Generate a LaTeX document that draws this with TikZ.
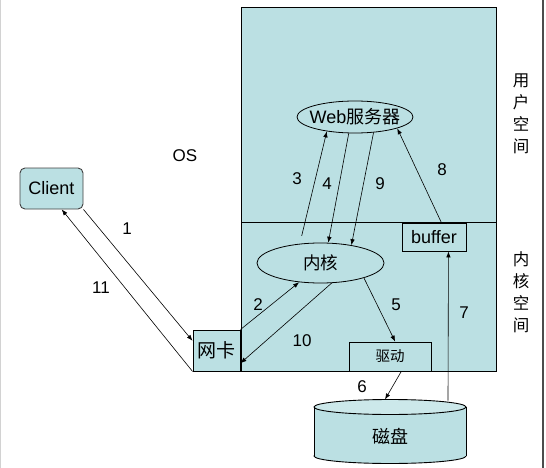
\documentclass[tikz,border=0pt]{standalone}
\usepackage{fontspec}
\setmainfont{Liberation Sans}
\newfontfamily\cjk{Noto Sans CJK SC}
\usetikzlibrary{arrows.meta, shapes.geometric}
\definecolor{paleblue}{RGB}{187,224,227}

\begin{document}
\begin{tikzpicture}[x=1pt, y=-1pt, font=\fontsize{17}{20}\selectfont,
    box/.style={draw, fill=paleblue, line width=0.9pt, inner sep=0pt},
    oval/.style={draw, ellipse, line width=0.8pt, inner sep=0pt},
    arr/.style={-{Latex[length=6pt,width=4.5pt]}, line width=0.6pt},
    num/.style={inner sep=0pt}]
            \useasboundingbox (0,0) rectangle (546,468);
            % page edges
            \draw[gray!35, line width=1pt] (0.5,0) -- (0.5,468);
            \draw[black!70, line width=2pt] (543,0) -- (543,468);

            % OS box, user space over kernel space
            \draw[fill=paleblue, line width=1pt] (241,8) rectangle (496,371);
            \draw[line width=1pt] (241,222) -- (496,222);

            \node[box, rounded corners=5pt, draw=black!75, minimum width=63pt, minimum height=41pt, font=\fontsize{18}{20}\selectfont] (client) at (51.5,188.5) {Client};
            \node[box, minimum width=47pt, minimum height=41pt, font=\cjk\fontsize{19}{20}\selectfont] (nic) at (216.5,350.5) {网卡};
            \node[box, minimum width=82pt, minimum height=29pt, font=\cjk\fontsize{14.5}{16}\selectfont] (drv) at (390,356.5) {驱动};
            \node[box, minimum width=64pt, minimum height=28pt, font=\fontsize{18}{20}\selectfont] (buffer) at (434,237) {buffer};
            \node[oval, minimum width=116pt, minimum height=32pt] (web) at (355,117) {};
            \node (webtxt) at (web) {\fontsize{18}{20}\selectfont Web{\cjk 服务器}};
            \node[oval, minimum width=127pt, minimum height=40pt] (kernel) at (320.5,263) {};
            \node (kerneltxt) at (kernel) {\cjk\fontsize{17.5}{20}\selectfont 内核};

            % disk
            \draw[line width=0.9pt, fill=paleblue] (390,456) ellipse [x radius=76pt, y radius=7.5pt];
            \fill[paleblue] (314,407) rectangle (466,456);
            \draw[line width=0.9pt] (314,407) -- (314,456) (466,407) -- (466,456);
            \draw[line width=0.9pt, fill=paleblue!75!white] (390,407) ellipse [x radius=76pt, y radius=7.5pt];
            \node (disk) at (390,436) {\cjk\fontsize{18}{20}\selectfont 磁盘};
            \coordinate (disk6) at (385,399.5);
            \coordinate (disk7) at (448,400.5);

            \node (os) at (185,156) {OS};
            \node[align=center, font=\cjk\fontsize{16.5}{22}\selectfont] (userlbl) at (521,114) {用\\户\\空\\间};
            \node[align=center, font=\cjk\fontsize{16.5}{22}\selectfont] (kernlbl) at (521,292) {内\\核\\空\\间};

            \draw[arr] (client.south east) -- (nic.158);
            \draw[arr] (nic.south west) -- (client.-64);
            \draw[arr] (nic.north east) -- (kernel.222);
            \draw[arr] (kernel.-61) -- (nic.-28);
            \draw[arr, shorten <=8pt] (kernel.137) -- (web.207);
            \draw[arr] (web.249) -- (kernel.69);
            \draw[arr] (web.-40) -- (kernel.30);
            \draw[arr] (buffer.63) -- (web.-15);
            \draw[arr] (kernel.-19) -- (drv.71);
            \draw[arr] (drv.-53) -- (disk6);
            \draw[arr] (disk7) -- (buffer.-45);

            \node[num] (n1) at (127,229) {1};
            \node[num] (n11) at (101,288) {11};
            \node[num] (n2) at (258,305) {2};
            \node[num] (n10) at (302,341) {10};
            \node[num] (n5) at (396,305) {5};
            \node[num] (n6) at (362,387) {6};
            \node[num] (n7) at (464,313) {7};
            \node[num] (n3) at (297,179) {3};
            \node[num] (n4) at (327,184) {4};
            \node[num] (n9) at (380,184) {9};
            \node[num] (n8) at (442,170) {8};
        \end{tikzpicture}
\end{document}
